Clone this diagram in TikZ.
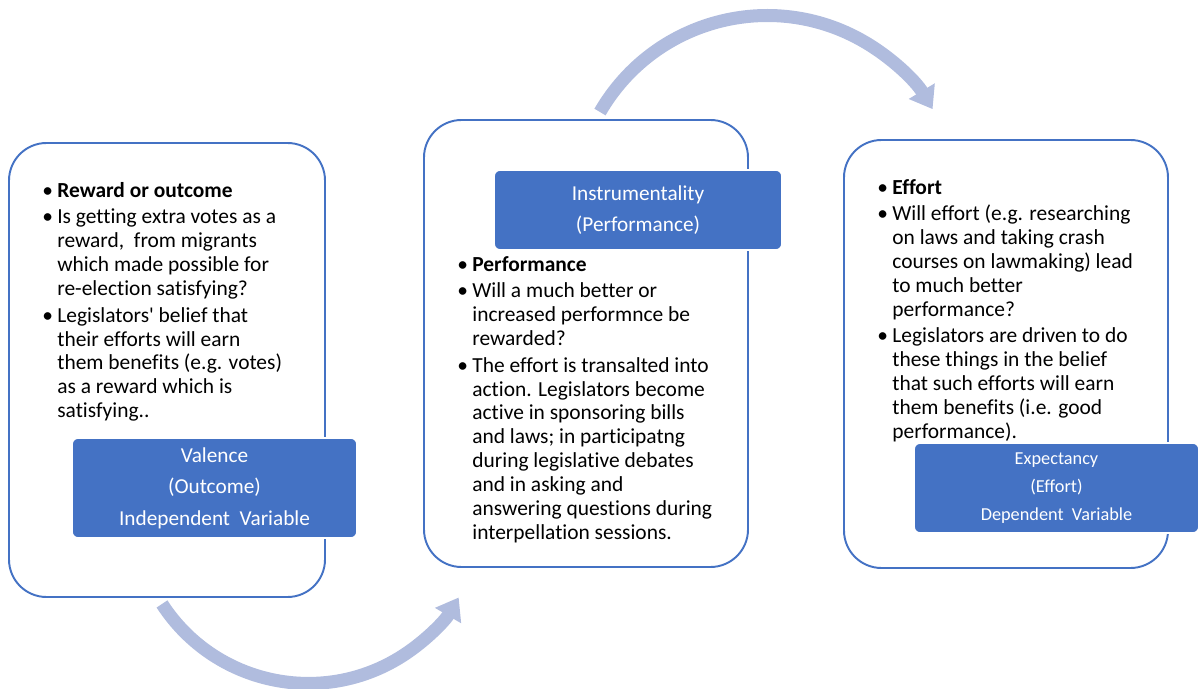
\documentclass[tikz,border=0pt]{standalone}
\usepackage{fontspec}
\setmainfont[Ligatures={TeX,NoCommon}]{Carlito}
\usetikzlibrary{positioning}
\usetikzlibrary{arrows.meta}
\usetikzlibrary{calc}

\definecolor{boxblue}{RGB}{68,114,196}
\definecolor{arcblue}{RGB}{176,188,222}

\newcommand{\bul}{\llap{\textbullet\hspace{2.5pt}}}

\begin{document}
\begin{tikzpicture}[
    box/.style = {
      draw = boxblue, line width = 1.1pt, fill = white,
      rounded corners = 0.75cm,
      inner sep = 0pt,
    },
    tag/.style = {
      draw = white, line width = 1pt, fill = boxblue,
      rounded corners = 0.12cm,
      text = white, align = center,
      inner sep = 0pt,
      font = \fontsize{12.1}{18}\selectfont,
    },
    txt/.style = {
      anchor = north west, align = left,
      inner sep = 0pt,
      font = \fontsize{12.2}{13.6}\selectfont,
    },
    flow/.style = {
      arcblue, line width = 0.26cm,
      -{Triangle[width=0.58cm, length=0.42cm]},
    },
  ]

  \useasboundingbox (0,0) rectangle (23.98,13.76);

  \node[box, minimum width = 6.32cm, minimum height = 9.08cm] (V1) at (3.34,6.36) {};
  \node[box, minimum width = 6.48cm, minimum height = 8.94cm] (I1) at (11.72,6.89) {};
  \node[box, minimum width = 6.48cm, minimum height = 8.56cm] (E1) at (20.12,6.68) {};

  \node[txt] (V3) at (1.14,10.12) {%
    \bul\textbf{Reward or outcome}\\[1.5pt]
    \bul Is getting extra votes as a\\
    reward,\ \ from migrants\\
    which made possible for\\
    re-election satisfying?\\[1.5pt]
    \bul Legislators\textquotesingle{} belief that\\
    their efforts will earn\\
    them benefits (e.g. votes)\\
    as a reward which is\\
    satisfying..};

  \node[txt] (I3) at (9.44,8.64) {%
    \bul\textbf{Performance}\\[1.5pt]
    \bul Will a much better or\\
    increased performnce be\\
    rewarded?\\[1.5pt]
    \bul The effort is transalted into\\
    action. Legislators become\\
    active in sponsoring bills\\
    and laws; in participatng\\
    during legislative debates\\
    and in asking and\\
    answering questions during\\
    interpellation sessions.};

  \node[txt] (E3) at (17.84,10.18) {%
    \bul\textbf{Effort}\\[1.5pt]
    \bul Will effort (e.g. researching\\
    on laws and taking crash\\
    courses on lawmaking) lead\\
    to much better\\
    performance?\\[1.5pt]
    \bul Legislators are driven to do\\
    these things in the belief\\
    that such efforts will earn\\
    them benefits (i.e. good\\
    performance).};

  \node[tag, minimum width = 5.7cm, minimum height = 2.0cm] (V2) at (4.29,4.0)
    {Valence\\(Outcome)\\Independent\ \ Variable};
  \node[tag, minimum width = 5.76cm, minimum height = 1.6cm] (I2) at (12.76,9.56)
    {Instrumentality\\(Performance)};
  \node[tag, minimum width = 5.7cm, minimum height = 1.8cm,
    font = \fontsize{10.4}{15.8}\selectfont] (E2) at (21.13,4.0)
    {Expectancy\\(Effort)\\Dependent\ \ Variable};

  \coordinate (A1) at ($(V1.south)+(-0.1,-0.12)$);
  \coordinate (A2) at ($(I1.north)+(0.28,0.14)$);

  \draw[flow] (A1) arc (213:329.5:3.49);
  \draw[flow] (A2) arc (150:31:3.86);
\end{tikzpicture}
\end{document}
